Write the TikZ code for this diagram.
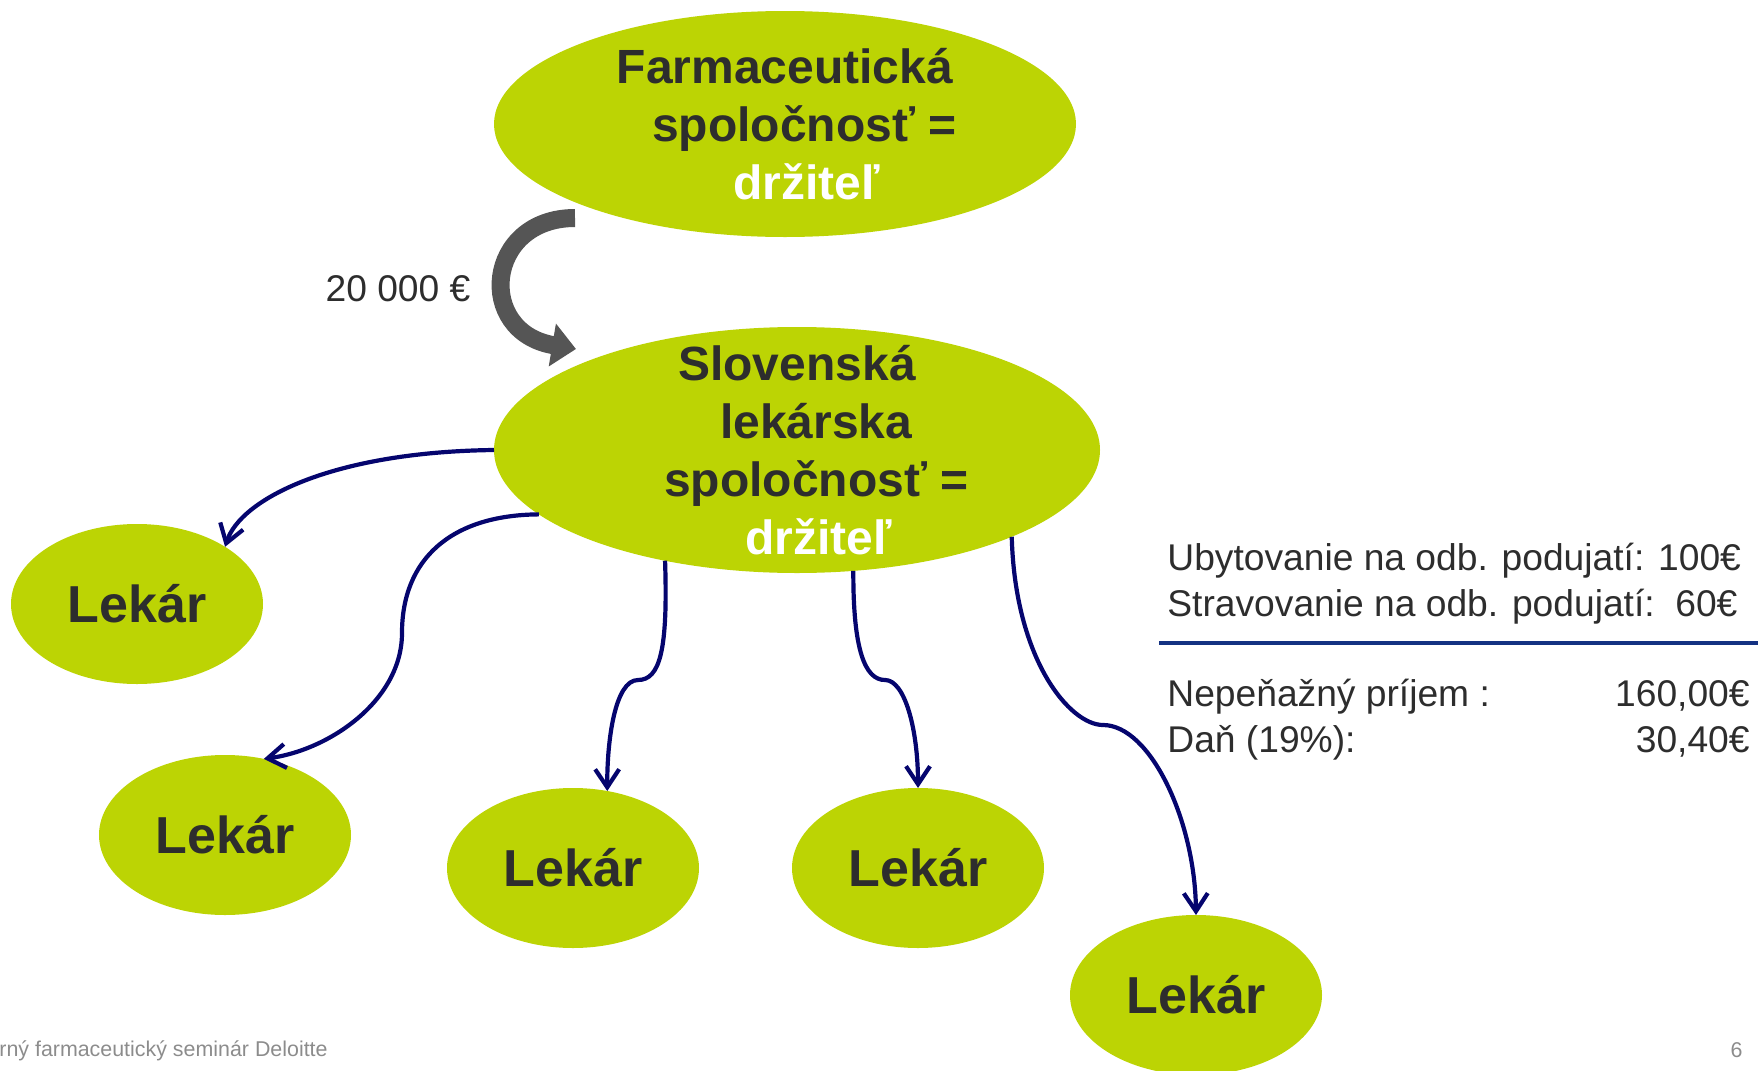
\documentclass[tikz,border=0pt]{standalone}
\usepackage{fontspec}
\setmainfont{Liberation Sans}
\usepackage{tikz}
\usetikzlibrary{shapes.geometric,arrows.meta}

\definecolor{blobgreen}{RGB}{188,212,4}
\definecolor{inktext}{RGB}{45,45,45}
\definecolor{linkblue}{RGB}{5,5,110}
\definecolor{rulecol}{RGB}{20,50,130}
\definecolor{arrowgray}{RGB}{85,85,85}
\definecolor{footgray}{RGB}{140,140,140}

\begin{document}
\begin{tikzpicture}[x=0.5pt,y=-0.5pt,
		blob/.style={shape=ellipse,fill=blobgreen,inner sep=0pt,outer sep=0pt},
		lekar/.style={blob,minimum width=126pt,minimum height=80pt,text=inktext,font=\bfseries\fontsize{26}{31}\selectfont},
		holdtext/.style={align=center,text=inktext,font=\bfseries\fontsize{24}{29}\selectfont},
		info/.style={text=inktext,font=\fontsize{18.6}{23}\selectfont,inner sep=0pt},
		foot/.style={text=footgray,font=\fontsize{10.7}{13}\selectfont,inner sep=0pt},
		link/.style={draw=linkblue,line width=2.1pt,-{Straight Barb[length=9pt,width=12pt]}},
		money/.style={draw=arrowgray,line width=9pt,-{Triangle[length=12pt,width=21pt]}}]
		\useasboundingbox (0,0) rectangle (1758,1071);
		\node[blob,minimum width=291pt,minimum height=113pt] (firma) at (785,124) {};
		\node[holdtext] (firmatext) at (firma) {Farmaceutická\\\hspace*{.8em}spoločnosť =\\\hspace*{.9em}\textcolor{white}{držiteľ}};
		\node[blob,minimum width=303pt,minimum height=123pt] (spol) at (797,450) {};
		\node[holdtext] (spoltext) at (spol) {Slovenská\\\hspace*{.8em}lekárska\\\hspace*{.8em}spoločnosť =\\\hspace*{.9em}\textcolor{white}{držiteľ}};
		\node[lekar] (lek1) at (137,604) {Lekár};
		\node[lekar] (lek2) at (225,835) {Lekár};
		\node[lekar] (lek3) at (573,868) {Lekár};
		\node[lekar] (lek4) at (918,868) {Lekár};
		\node[lekar] (lek5) at (1196,995) {Lekár};
		\draw[money] ([shift={(-210,94)}]firma.center) .. controls (485,218) and (475,332) .. ([shift={(-221,-101)}]spol.center);
		\node[info] (suma) at (398,289) {20 000 €};
		\draw[link] (spol.west) .. controls (330,452) and (240,500) .. (lek1.33);
		\draw[link] (spol.194) .. controls (450,515) and (402,560) .. (402,633) .. controls (402,700) and (330,750) .. (lek2.63);
		\draw[link] (spol.220) .. controls (668,650) and (660,680) .. (638,680) .. controls (615,680) and (607,740) .. (lek3.66);
		\draw[link] (spol.295) .. controls (853,650) and (865,680) .. (885,680) .. controls (905,680) and (918,730) .. (lek4.north);
		\draw[link] (spol.338) .. controls (1015,660) and (1070,725) .. (1103,725) .. controls (1150,725) and (1195,820) .. (lek5.north);
		\node[info,anchor=base west] (ubyt) at (1167,570) {Ubytovanie na odb. podujatí: 100€};
		\node[info,anchor=base west] (strav) at (1167,616) {Stravovanie na odb. podujatí:\ \ 60€};
		\draw[draw=rulecol,line width=1.75pt] (1159,643) -- (1758,643);
		\node[info,anchor=base west] (prijem) at (1167,706) {Nepeňažný príjem :};
		\node[info,anchor=base east] (prijemsuma) at (1750,706) {160,00€};
		\node[info,anchor=base west] (dan) at (1167,752) {Daň (19\%):};
		\node[info,anchor=base east] (dansuma) at (1750,752) {30,40€};
		\node[foot,anchor=base west] (fuss) at (-1,1056) {rný farmaceutický seminár Deloitte};
		\node[foot,anchor=base east] (strana) at (1743,1057) {6};
	\end{tikzpicture}
\end{document}
